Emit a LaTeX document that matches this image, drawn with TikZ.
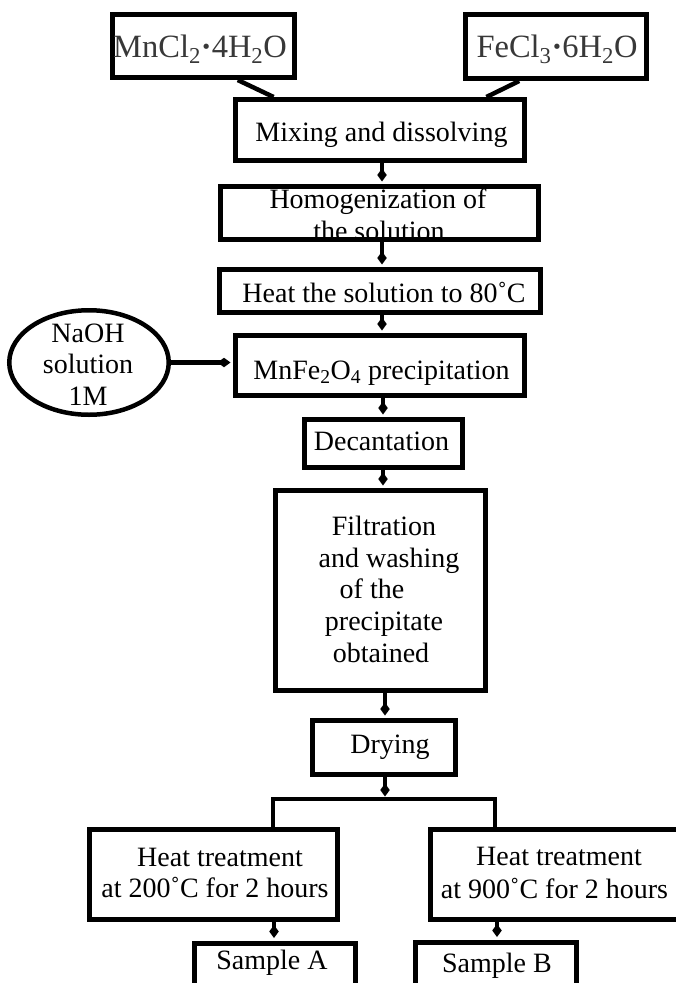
\documentclass[tikz,border=0pt]{standalone}
\usepackage{fontspec}
\setmainfont{Liberation Serif}
\usetikzlibrary{arrows.meta,shapes.geometric,calc}
\begin{document}
\begin{tikzpicture}[x=1pt,y=-1pt,
  box/.style={draw, line width=5pt, rectangle, inner sep=0pt},
  txt/.style={inner sep=0pt, anchor=base, font=\fontsize{28}{32}\selectfont},
  big/.style={inner sep=0pt, anchor=base, font=\fontsize{32.5}{36}\selectfont, text=black!78},
  conn/.style={line width=4.5pt},
  arr/.style={conn, shorten >=2.5pt, -{Kite[length=13pt,width=9.5pt,inset=6.5pt]}}]
\fill[white] (0,0) rectangle (676,983);
\clip (0,0) rectangle (676,983);
% boxes
\node[box, minimum width=182pt, minimum height=63pt] (mn) at (203.5,46) {};
\node[box, minimum width=181pt, minimum height=64pt] (fe) at (556,46.5) {};
\node[box, minimum width=289pt, minimum height=61pt] (mix) at (380,130) {};
\node[box, minimum width=318pt, minimum height=53pt] (hom) at (379.5,213) {};
\node[box, minimum width=321pt, minimum height=43pt] (heat) at (380,291) {};
\node[box, minimum width=289pt, minimum height=60pt] (mnfe) at (380,365.5) {};
\node[draw, ellipse, line width=4.5pt, inner sep=0pt, minimum width=159.5pt, minimum height=104.5pt] (naoh) at (89,362.5) {};
\node[box, minimum width=158pt, minimum height=48pt] (dec) at (383.5,443.5) {};
\node[box, minimum width=210pt, minimum height=200pt] (filt) at (380.5,590.5) {};
\node[box, minimum width=143pt, minimum height=54pt] (dry) at (384,747.5) {};
\node[box, minimum width=248pt, minimum height=90pt] (heatL) at (213.5,874.5) {};
\node[box, minimum width=257pt, minimum height=90pt] (heatR) at (559,874.5) {};
\node[box, minimum width=161pt, minimum height=50pt] (sampA) at (275,968) {};
\node[box, minimum width=161pt, minimum height=50pt] (sampB) at (496,967) {};
% texts
\node[big] (mnT) at (200,57) {MnCl\textsubscript{2}{\bfseries·}4H\textsubscript{2}O};
\node[big] (feT) at (557,57) {FeCl\textsubscript{3}{\bfseries·}6H\textsubscript{2}O};
\node[txt] (mixT) at (381.5,141) {Mixing and dissolving};
\node[txt] (homT1) at (378,208) {Homogenization of};
\node[txt] (homT2) at (379,240) {the solution};
\node[txt] (heatT) at (384,302) {Heat the solution to 80˚C};
\node[txt] (mnfeT) at (381.5,379) {MnFe\textsubscript{2}O\textsubscript{4} precipitation};
\node[txt] (naohT1) at (88,342) {NaOH};
\node[txt] (naohT2) at (88,373) {solution};
\node[txt] (naohT3) at (88,405) {1M};
\node[txt] (decT) at (381.5,450) {Decantation};
\node[txt] (filtT1) at (384,535) {Filtration};
\node[txt] (filtT2) at (389,567) {and washing};
\node[txt] (filtT3) at (372,598) {of the};
\node[txt] (filtT4) at (384,630) {precipitate};
\node[txt] (filtT5) at (381,662) {obtained};
\node[txt] (dryT) at (390,753) {Drying};
\node[txt] (heatLT1) at (220,866) {Heat treatment};
\node[txt] (heatLT2) at (215,897) {at 200˚C for 2 hours};
\node[txt] (heatRT1) at (559,865) {Heat treatment};
\node[txt] (heatRT2) at (554.5,898) {at 900˚C for 2 hours};
\node[txt] (sampAT) at (272,969) {Sample A};
\node[txt] (sampBT) at (497,972) {Sample B};
% connectors
\draw[conn] ($(mn.south west)!0.683!(mn.south east)$) -- ($(mix.north west)!0.138!(mix.north east)$);
\draw[conn] ($(fe.south west)!0.302!(fe.south east)$) -- ($(mix.north west)!0.862!(mix.north east)$);
\draw[arr] (382,0 |- mix.south) -- (382,0 |- hom.north);
\draw[arr] (382,0 |- hom.south) -- (382,0 |- heat.north);
\draw[arr] (382,0 |- heat.south) -- (382,0 |- mnfe.north);
\draw[arr] (naoh.east) -- (naoh.east -| mnfe.west);
\draw[arr] (383,0 |- mnfe.south) -- (383,0 |- dec.north);
\draw[arr] (383,0 |- dec.south) -- (383,0 |- filt.north);
\draw[arr] (385,0 |- filt.south) -- (385,0 |- dry.north);
\coordinate (br) at (385,799);
\draw[arr] (385,0 |- dry.south) -- (br);
\draw[conn, line join=miter] (273,0 |- heatL.north) -- (273,799) -- (495,799) -- (495,0 |- heatR.north);
\draw[arr] (274,0 |- heatL.south) -- (274,0 |- sampA.north);
\draw[arr] (497,0 |- heatR.south) -- (497,0 |- sampB.north);
\end{tikzpicture}
\end{document}
